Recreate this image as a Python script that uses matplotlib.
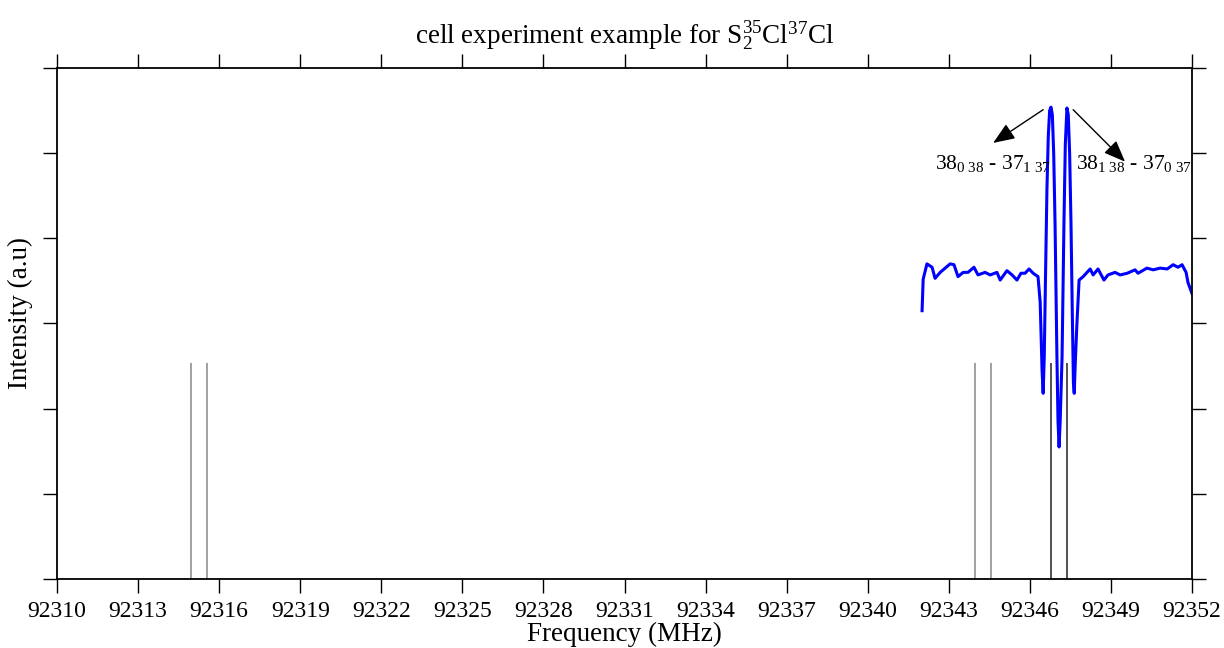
import matplotlib
matplotlib.use('Agg')
from matplotlib import pyplot as plt

plt.rcParams['font.family'] = ['Liberation Serif', 'DejaVu Serif']
plt.rcParams['mathtext.fontset'] = 'custom'
plt.rcParams['mathtext.rm'] = 'Liberation Serif'
plt.rcParams['mathtext.it'] = 'Liberation Serif:italic'
plt.rcParams['mathtext.bf'] = 'Liberation Serif:bold'

# measured spectrum (MHz, a.u.)
freq = [92342.01, 92342.05, 92342.19, 92342.38, 92342.49, 92342.68, 92342.79,
        92343.05, 92343.19, 92343.34, 92343.53, 92343.71, 92343.93, 92344.08,
        92344.34, 92344.53, 92344.78, 92344.90, 92345.15, 92345.34, 92345.52,
        92345.67, 92345.82, 92345.97, 92346.12, 92346.30, 92346.38, 92346.45,
        92346.49, 92346.53, 92346.58, 92346.63, 92346.68, 92346.73, 92346.78,
        92346.83, 92346.88, 92346.93, 92347.00, 92347.04, 92347.08, 92347.12,
        92347.19, 92347.26, 92347.31, 92347.37, 92347.42, 92347.47, 92347.52,
        92347.57, 92347.61, 92347.64, 92347.68, 92347.74, 92347.82, 92347.97,
        92348.23, 92348.34, 92348.52, 92348.74, 92348.89, 92349.15, 92349.34,
        92349.60, 92349.89, 92350.00, 92350.33, 92350.56, 92350.82, 92351.08,
        92351.30, 92351.48, 92351.63, 92351.78, 92351.85, 92352.00]
inten = [3.15, 3.52, 3.70, 3.66, 3.53, 3.60, 3.63,
         3.70, 3.69, 3.55, 3.60, 3.60, 3.66, 3.57,
         3.60, 3.57, 3.60, 3.51, 3.62, 3.57, 3.51,
         3.59, 3.59, 3.64, 3.59, 3.55, 3.25, 2.45,
         2.18, 2.60, 3.60, 4.57, 5.20, 5.50, 5.54,
         5.45, 5.00, 4.18, 2.61, 1.85, 1.55, 1.85,
         2.61, 4.18, 5.10, 5.53, 5.45, 5.00, 4.18,
         3.10, 2.30, 2.18, 2.55, 3.00, 3.51, 3.55,
         3.64, 3.57, 3.64, 3.51, 3.57, 3.60, 3.57,
         3.59, 3.63, 3.59, 3.65, 3.63, 3.65, 3.64,
         3.69, 3.66, 3.69, 3.60, 3.48, 3.35]

# predicted transitions
stick_light = [92314.96, 92315.55, 92343.97, 92344.57]
stick_dark = [92346.79, 92347.38]
stick_h = 2.54

xticks = list(range(92310, 92353, 3))
yticks = [0, 1, 2, 3, 4, 5, 6]

fig = plt.figure(figsize=(12.24, 6.48), dpi=100)
ax = fig.add_axes([0.0466, 0.1065, 0.9273, 0.7886])

ax.vlines(stick_light, 0, stick_h, colors='#9a9a9a', lw=1.3)
ax.vlines(stick_dark, 0, stick_h, colors='#444444', lw=1.3)
ax.plot(freq, inten, color='#0000ff', lw=2.2)

arrow_style = dict(arrowstyle='-|>,head_length=0.55,head_width=0.22', color='k',
                   lw=1, mutation_scale=24, shrinkA=0, shrinkB=0)
ax.annotate('', xy=(92344.64, 5.12), xytext=(92346.49, 5.51), arrowprops=arrow_style)
ax.annotate('', xy=(92349.52, 4.90), xytext=(92347.60, 5.51), arrowprops=arrow_style)
ax.text(92342.49, 4.88, r'38$_{0\ 38}$ - 37$_{1\ 37}$', fontsize=15.5, va='center', ha='left')
ax.text(92347.71, 4.88, r'38$_{1\ 38}$ - 37$_{0\ 37}$', fontsize=15.5, va='center', ha='left')

ax.set_xlim(92310, 92352)
ax.set_ylim(0, 6)
ax.set_xticks(xticks)
ax.set_xticklabels([str(t) for t in xticks])
ax.set_yticks(yticks)
ax.set_yticklabels([])
ax.tick_params(direction='out', length=10, width=1, labelsize=17, pad=6,
               top=True, right=True, colors='k')
for s in ax.spines.values():
    s.set_linewidth(1.3)

ax.set_xlabel('Frequency (MHz)', fontsize=19.5, labelpad=0)
ax.set_ylabel('Intensity (a.u)', fontsize=19.5)
ax.yaxis.set_label_coords(-0.021, 0.52)
ax.set_title(r'cell experiment example for S$_2^{35}$Cl$^{37}$Cl', fontsize=19.5, pad=17)

fig.savefig('out.png', dpi=100)
